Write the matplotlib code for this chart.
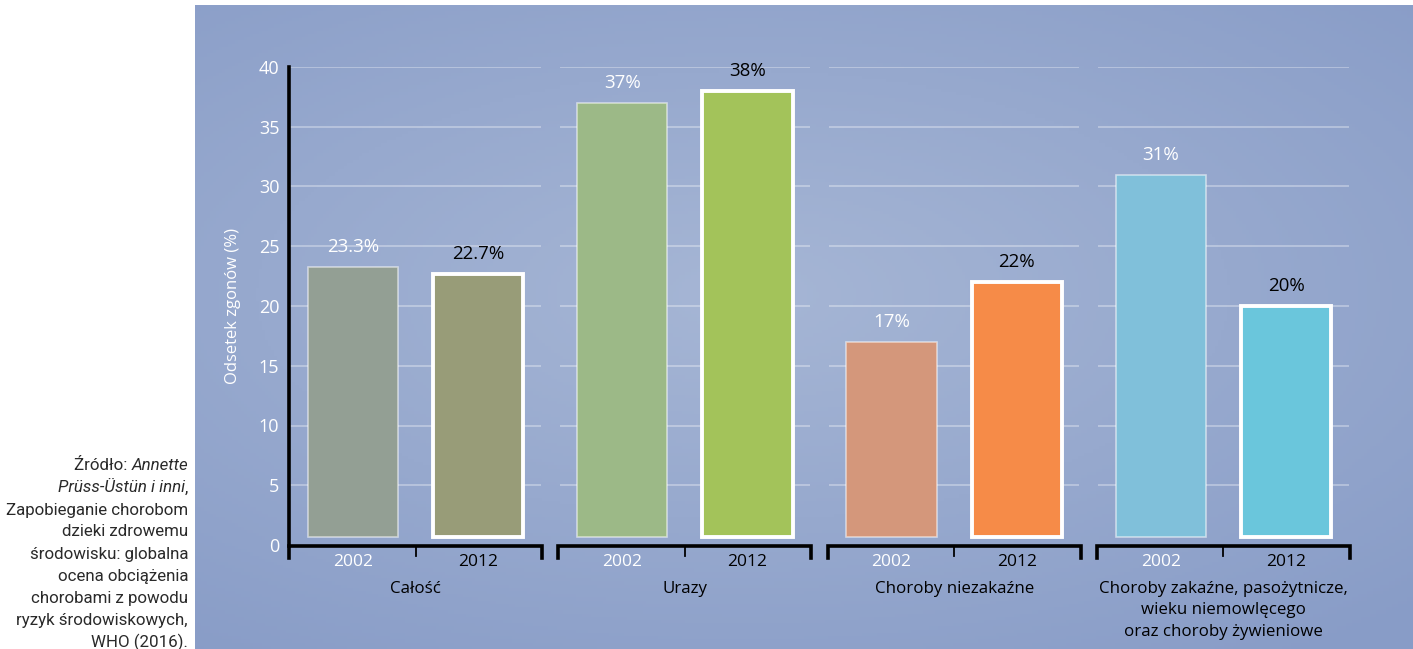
import numpy as np
import matplotlib
matplotlib.use("Agg")
from matplotlib import pyplot as plt

# --- data ---
groups = ["Całość", "Urazy", "Choroby niezakaźne",
          "Choroby zakaźne, pasożytnicze,\nwieku niemowlęcego\noraz choroby żywieniowe"]
years = ["2002", "2012"]
values_2002 = [23.3, 37, 17, 31]
values_2012 = [22.7, 38, 22, 20]
labels_2002 = ["23.3%", "37%", "17%", "31%"]
labels_2012 = ["22.7%", "38%", "22%", "20%"]
colors_2002 = ["#939f94", "#9cb987", "#d4977b", "#80c0da"]
colors_2012 = ["#989c78", "#a3c35a", "#f68b48", "#6ac6dc"]
yticks = [0, 5, 10, 15, 20, 25, 30, 35, 40]

FONT = ["Open Sans", "DejaVu Sans"]
SRC_FONT = ["Liberation Sans Narrow", "Roboto", "DejaVu Sans"]

W, H = 1413, 649
fig = plt.figure(figsize=(W / 100, H / 100), dpi=100)
fig.patch.set_facecolor("white")

# gradient panel behind the chart
bg = fig.add_axes([195 / W, 0, 1 - 195 / W, 1 - 5 / H])
bg.set_axis_off()
yy, xx = np.mgrid[0:1:200j, 0:1:400j]
d = np.sqrt(((xx - 0.45) / 0.8) ** 2 + ((yy - 0.45) / 0.7) ** 2)
light = np.clip(1 - d, 0, 1)
c_edge = np.array([0x88, 0x9c, 0xc7]) / 255
c_mid = np.array([0xa6, 0xb6, 0xd5]) / 255
img = c_edge[None, None, :] + (c_mid - c_edge)[None, None, :] * light[..., None]
bg.imshow(img, aspect="auto", extent=[0, 1, 0, 1])

# main axes: y=0 at 545px, y=40 at 67px
x_left, x_right = 289, 1350
ax = fig.add_axes([x_left / W, (H - 545) / H, (x_right - x_left) / W, (545 - 67) / H])
ax.patch.set_alpha(0)
half = 0.47
ax.set_xlim(-half, len(groups) - 1 + half)
ax.set_ylim(0, 40)
for s in ax.spines.values():
    s.set_visible(False)
ax.set_xticks([])
ax.set_yticks(yticks)
ax.tick_params(axis="y", length=0, pad=7, labelsize=13, labelcolor="white")
for t in ax.get_yticklabels():
    t.set_fontfamily(FONT)

x = np.arange(len(groups))
off, bw, base = 0.233, 0.335, 0.7

# gridline segments per group
for gx in x:
    ax.hlines(yticks[1:], gx - half + 0.005, gx + half - 0.005,
              colors="white", alpha=0.35, linewidth=1.3, zorder=1)

ax.bar(x - off, np.array(values_2002) - base, bw, bottom=base, color=colors_2002,
       edgecolor=(1, 1, 1, 0.55), linewidth=1.2, zorder=2)
ax.bar(x + off, np.array(values_2012) - base, bw, bottom=base, color=colors_2012,
       edgecolor="white", linewidth=2.8, zorder=2)

for i in range(len(groups)):
    ax.text(x[i] - off, values_2002[i] + 0.9, labels_2002[i], ha="center", va="bottom",
            color="white", fontsize=13.5, family=FONT)
    ax.text(x[i] + off, values_2012[i] + 0.9, labels_2012[i], ha="center", va="bottom",
            color="black", fontsize=13.5, family=FONT)
    # bracket axis under each group
    left, right = x[i] - half, x[i] + half
    ax.plot([left, left, right, right], [-1.1, -0.1, -0.1, -1.1], color="black",
            lw=2.6, clip_on=False, solid_joinstyle="miter", zorder=3)
    ax.plot([x[i], x[i]], [-0.1, -0.9], color="black", lw=1.3, clip_on=False)
    ax.text(x[i] - off, -0.75, years[0], ha="center", va="top", color="white",
            fontsize=12.5, family=FONT)
    ax.text(x[i] + off, -0.75, years[1], ha="center", va="top", color="black",
            fontsize=12.5, family=FONT)
    ax.text(x[i], -3.0, groups[i], ha="center", va="top", color="black",
            fontsize=12.2, family=FONT, linespacing=1.45)

# y axis line
ax.plot([-half, -half], [-0.1, 40], color="black", lw=2.6, clip_on=False, zorder=3)
ax.set_ylabel("Odsetek zgonów (%)", color="white", fontsize=12, family=FONT, labelpad=13)

# source note with mixed italic
fig.canvas.draw()
r = fig.canvas.get_renderer()
xr = 188 / W
src_size = 12.2
line_h = 22 / H
y0 = 1 - 466 / H


def right_pieces(y, pieces):
    xpos = xr
    for txt, style in reversed(pieces):
        t = fig.text(xpos, y, txt, ha="right", va="center", fontsize=src_size,
                     family=SRC_FONT, style=style, color="#2a2a2a")
        bb = t.get_window_extent(r)
        xpos = bb.x0 / W


right_pieces(y0, [("Źródło: ", "normal"), ("Annette", "italic")])
right_pieces(y0 - line_h, [("Prüss-Üstün i inni", "italic"), (",", "normal")])
rest = ["Zapobieganie chorobom", "dzieki zdrowemu", "środowisku: globalna",
        "ocena obciążenia", "chorobami z powodu", "ryzyk środowiskowych,",
        "WHO (2016)."]
for k, line in enumerate(rest):
    right_pieces(y0 - (k + 2) * line_h, [(line, "normal")])

fig.savefig("out.png", dpi=100, facecolor=fig.get_facecolor())
